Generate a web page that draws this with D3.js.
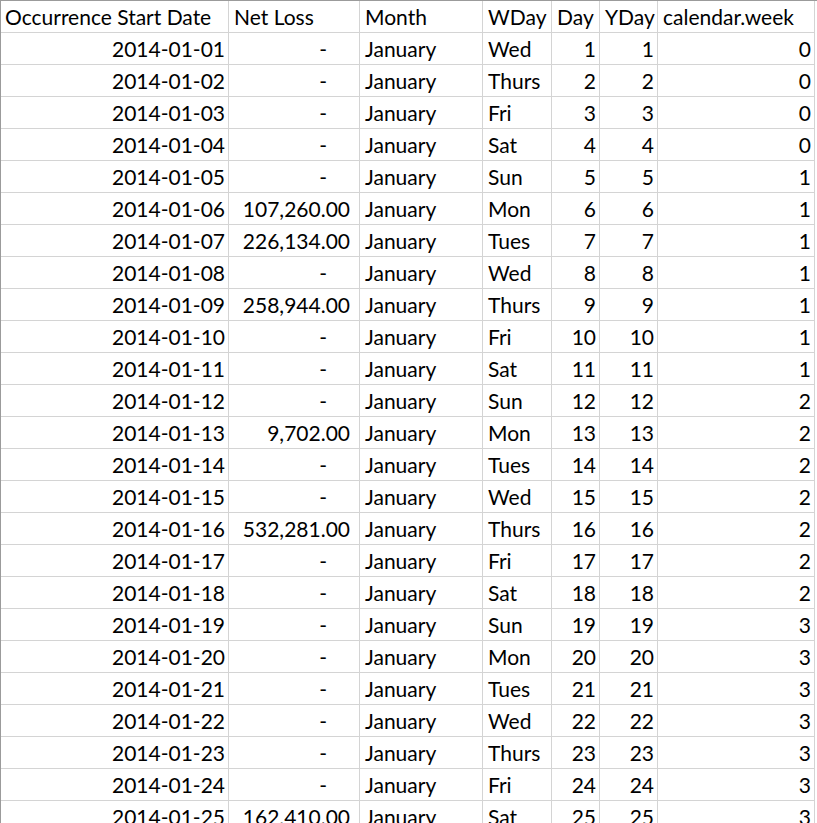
<!doctype html>
<html>
<head>
<meta charset="utf-8">
<title>Net Loss calendar table</title>
<script src="https://d3js.org/d3.v7.min.js"></script>
<style>
  html, body { margin: 0; padding: 0; background: #fff; overflow: hidden; }
  svg { display: block; }
  .cell-text { font-family: Lato, "Open Sans", sans-serif; font-size: 21px; fill: #000; }
</style>
</head>
<body>
<div id="sheet"></div>
<script>
// column headers
var headers = ["Occurrence Start Date", "Net Loss", "Month", "WDay", "Day", "YDay", "calendar.week"];

// data, one array per column
var dates = ["2014-01-01", "2014-01-02", "2014-01-03", "2014-01-04", "2014-01-05", "2014-01-06",
             "2014-01-07", "2014-01-08", "2014-01-09", "2014-01-10", "2014-01-11", "2014-01-12",
             "2014-01-13", "2014-01-14", "2014-01-15", "2014-01-16", "2014-01-17", "2014-01-18",
             "2014-01-19", "2014-01-20", "2014-01-21", "2014-01-22", "2014-01-23", "2014-01-24",
             "2014-01-25"];
var netLoss = [null, null, null, null, null, 107260, 226134, null, 258944, null, null, null,
               9702, null, null, 532281, null, null, null, null, null, null, null, null, 162410];
var months = ["January", "January", "January", "January", "January", "January", "January",
              "January", "January", "January", "January", "January", "January", "January",
              "January", "January", "January", "January", "January", "January", "January",
              "January", "January", "January", "January"];
var wdays = ["Wed", "Thurs", "Fri", "Sat", "Sun", "Mon", "Tues", "Wed", "Thurs", "Fri", "Sat",
             "Sun", "Mon", "Tues", "Wed", "Thurs", "Fri", "Sat", "Sun", "Mon", "Tues", "Wed",
             "Thurs", "Fri", "Sat"];
var days = [1, 2, 3, 4, 5, 6, 7, 8, 9, 10, 11, 12, 13, 14, 15, 16, 17, 18, 19, 20, 21, 22, 23, 24, 25];
var ydays = [1, 2, 3, 4, 5, 6, 7, 8, 9, 10, 11, 12, 13, 14, 15, 16, 17, 18, 19, 20, 21, 22, 23, 24, 25];
var calWeeks = [0, 0, 0, 0, 1, 1, 1, 1, 1, 1, 1, 2, 2, 2, 2, 2, 2, 2, 3, 3, 3, 3, 3, 3, 3];

// layout (not data)
var width = 817, height = 823, rowH = 32;
var colEdges = [0, 229, 360, 483, 552, 600, 658, 815];
var colAlign = ["right", "acct", "left", "left", "right", "right", "right"];

var fmt = d3.format(",.2f");
function netLossText(v) { return v == null ? "-" : fmt(v); }

var rows = dates.map(function(d, i) {
    return [d, netLossText(netLoss[i]), months[i], wdays[i], days[i], ydays[i], calWeeks[i]];
});

var y = d3.scaleLinear().domain([0, 1]).range([0, rowH]);   // row index -> top
var nRows = rows.length + 1;

var svg = d3.select("#sheet").append("svg")
    .attr("width", width)
    .attr("height", height);

svg.append("rect")
    .attr("width", width).attr("height", height)
    .style("fill", "#fff");

// horizontal gridlines
svg.selectAll(".hline")
    .data(d3.range(1, nRows + 1))
  .enter().append("line")
    .attr("class", "hline")
    .attr("x1", 0).attr("x2", colEdges[colEdges.length - 1])
    .attr("y1", function(d) { return y(d) + 0.5; })
    .attr("y2", function(d) { return y(d) + 0.5; })
    .style("stroke", "#d4d4d4");

// vertical gridlines
svg.selectAll(".vline")
    .data(colEdges.slice(1))
  .enter().append("line")
    .attr("class", "vline")
    .attr("x1", function(d) { return d - 0.5; }).attr("x2", function(d) { return d - 0.5; })
    .attr("y1", 0).attr("y2", height)
    .style("stroke", "#d4d4d4");

// outer left/top edge
svg.append("line").attr("x1", 0.5).attr("x2", 0.5).attr("y1", 0).attr("y2", height)
    .style("stroke", "#9b9b9b");
svg.append("line").attr("x1", 0).attr("x2", width).attr("y1", 0.5).attr("y2", 0.5)
    .style("stroke", "#9b9b9b");

function textX(c, align) {
    if (align === "left") return colEdges[c] + 5;
    if (align === "acct") return colEdges[c + 1] - 10;
    return colEdges[c + 1] - 4;
}

// header row
svg.selectAll(".hdr")
    .data(headers)
  .enter().append("text")
    .attr("class", "cell-text hdr")
    .attr("x", function(d, c) { return colEdges[c] + 5; })
    .attr("y", y(0) + 25)
    .text(function(d) { return d; });

// body rows
var row = svg.selectAll(".row")
    .data(rows)
  .enter().append("g")
    .attr("class", "row")
    .attr("transform", function(d, i) { return "translate(0," + y(i + 1) + ")"; });

row.selectAll("text")
    .data(function(d) { return d; })
  .enter().append("text")
    .attr("class", "cell-text")
    .attr("x", function(d, c) {
        var a = colAlign[c];
        if (a === "acct" && d === "-") return colEdges[c + 1] - 33;
        return textX(c, a);
    })
    .attr("y", 25)
    .attr("text-anchor", function(d, c) { return colAlign[c] === "left" ? "start" : "end"; })
    .text(function(d) { return d; });
</script>
</body>
</html>
